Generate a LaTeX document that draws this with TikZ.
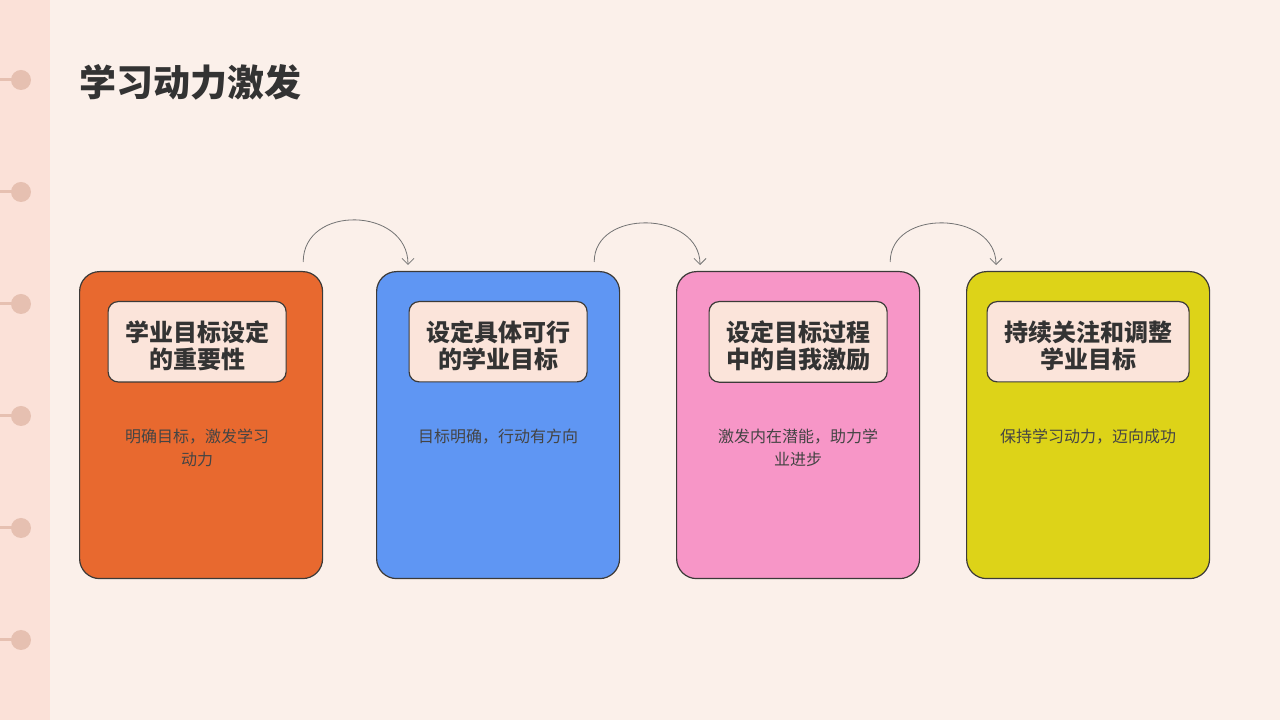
\documentclass[tikz,border=0pt]{standalone}
\usepackage{fontspec}
\newfontfamily\cjk{Noto Sans CJK SC}
\usetikzlibrary{positioning,arrows.meta}
\definecolor{pagebg}{HTML}{FBF0EA}
\definecolor{stripbg}{HTML}{FBE1D8}
\definecolor{pincol}{HTML}{E6C0B1}
\definecolor{linecol}{HTML}{3C3A38}
\definecolor{headfill}{HTML}{FBE4DA}
\definecolor{textcol}{HTML}{333333}
\definecolor{bodycol}{HTML}{444444}
\definecolor{orangecard}{HTML}{E8692F}
\definecolor{bluecard}{HTML}{5F96F3}
\definecolor{pinkcard}{HTML}{F796C7}
\definecolor{yellowcard}{HTML}{DDD318}
\newcommand{\headtop}{\rule{0pt}{29pt}}
\begin{document}
\begin{tikzpicture}[>={Straight Barb[length=6pt,width=12pt]},x=1pt,y=1pt,
	card/.style={draw=linecol,line width=1.2pt,rounded corners=20pt,minimum width=243pt,minimum height=307pt,anchor=north west},
	head/.style={draw=linecol,line width=1.2pt,fill=headfill,rounded corners=10pt,align=center,text=textcol,inner xsep=17pt,inner ysep=11pt,font=\cjk\bfseries\fontsize{24}{27}\selectfont},
	body/.style={align=center,text=bodycol,inner sep=0pt,font=\cjk\fontsize{16}{23}\selectfont},
	hop/.style={->,draw=gray!90!black,line width=0.8pt}]
	\useasboundingbox (0,0) rectangle (1280,720);
	\fill[pagebg] (0,0) rectangle (1280,720);
	% binding strip on the left
	\fill[stripbg] (0,0) rectangle (50,720);
	\foreach \y in {80,192,304,416,528,640}{
		\draw[pincol,line width=3pt] (0,720-\y)--(12,720-\y);
		\fill[pincol] (21,720-\y) circle (10);
	}
	\node[anchor=west,inner sep=0pt,text=textcol,font=\cjk\bfseries\fontsize{37}{40}\selectfont] (title) at (79,638) {学习动力激发};
	% cards
	\node[card,fill=orangecard] (card1) at (79,449) {};
	\node[card,fill=bluecard] (card2) at (376,449) {};
	\node[card,fill=pinkcard] (card3) at (676,449) {};
	\node[card,fill=yellowcard] (card4) at (966,449) {};
	\node[head,below=30pt of card1.north,xshift=-4pt] (head1) {\headtop 学业目标设定\\的重要性};
	\node[head,below=30pt of card2.north] (head2) {\headtop 设定具体可行\\的学业目标};
	\node[head,below=30pt of card3.north] (head3) {\headtop 设定目标过程\\中的自我激励};
	\node[head,below=30pt of card4.north] (head4) {\headtop 持续关注和调整\\学业目标};
	\node[body,below=158pt of card1.north,xshift=-4pt] (body1) {明确目标，激发学习\\动力};
	\node[body,below=158pt of card2.north] (body2) {目标明确，行动有方向};
	\node[body,below=158pt of card3.north] (body3) {激发内在潜能，助力学\\业进步};
	\node[body,below=158pt of card4.north] (body4) {保持学习动力，迈向成功};
	% hops between cards
	\coordinate (out1) at ([xshift=-20pt,yshift=9pt]card1.north east);
	\coordinate (in2) at ([xshift=32pt,yshift=6pt]card2.north west);
	\coordinate (out2) at ([xshift=-26pt,yshift=9pt]card2.north east);
	\coordinate (in3) at ([xshift=24pt,yshift=6pt]card3.north west);
	\coordinate (out3) at ([xshift=-30pt,yshift=9pt]card3.north east);
	\coordinate (in4) at ([xshift=30pt,yshift=6pt]card4.north west);
	\draw[hop] (out1) .. controls +(0,58) and +(0,58) .. (in2);
	\draw[hop] (out2) .. controls +(0,54) and +(0,54) .. (in3);
	\draw[hop] (out3) .. controls +(0,54) and +(0,54) .. (in4);
\end{tikzpicture}
\end{document}
